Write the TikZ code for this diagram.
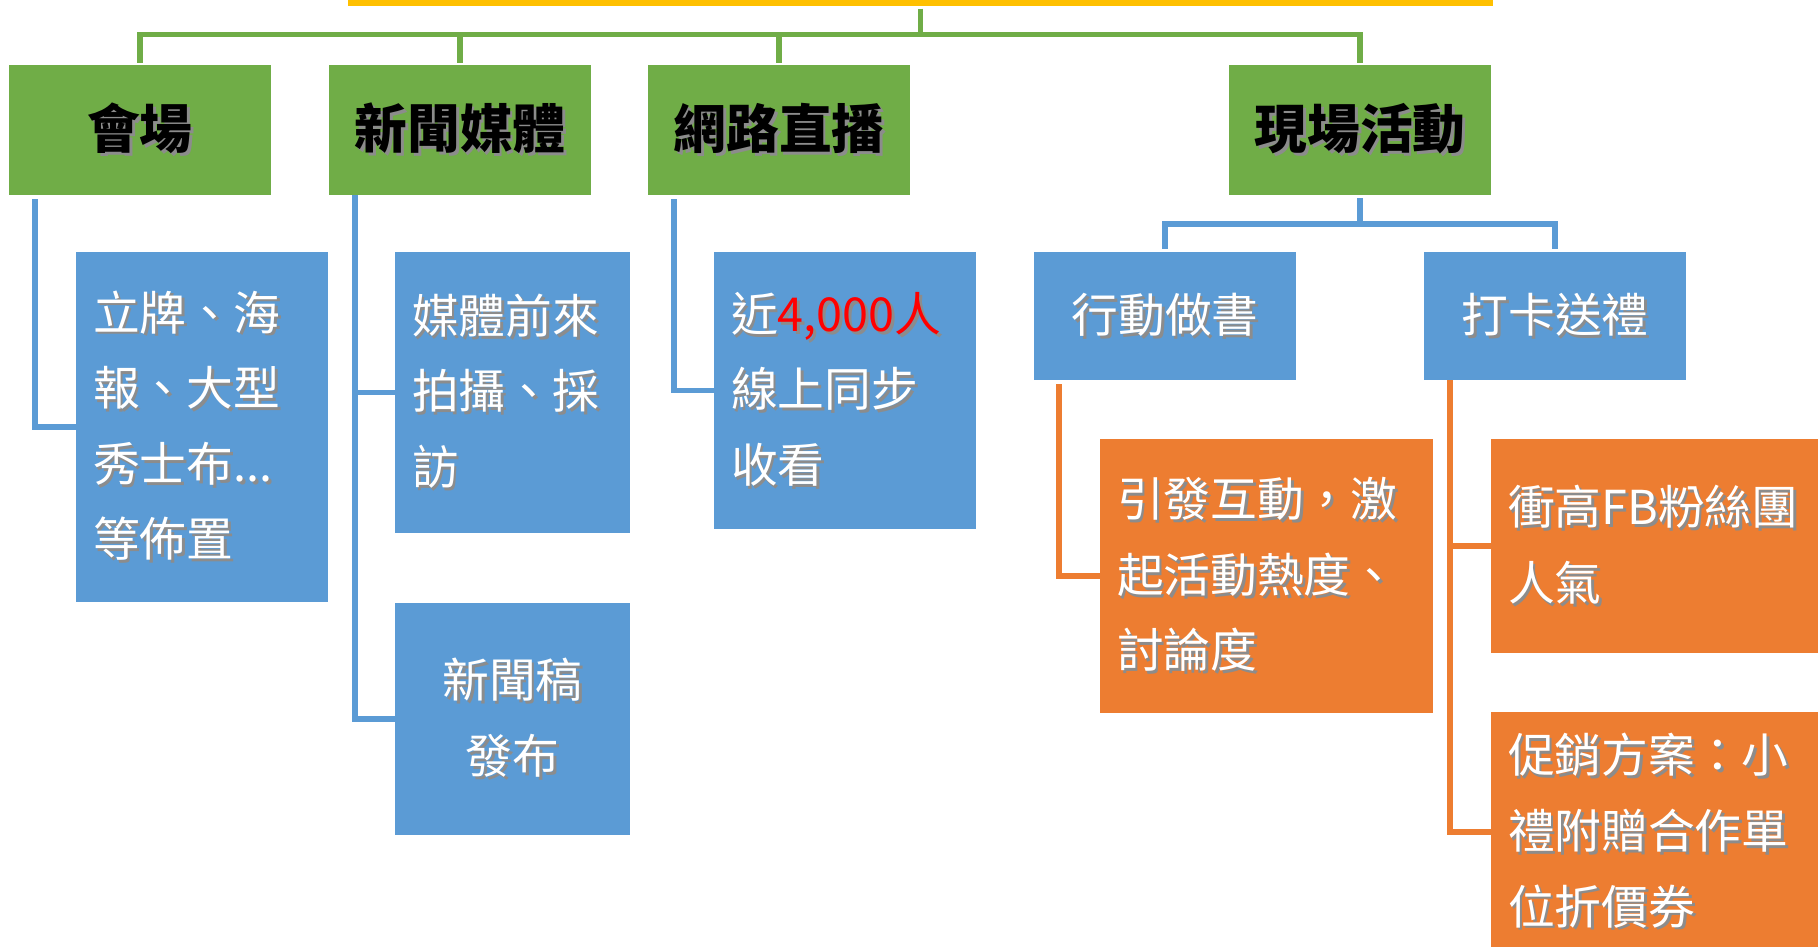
\documentclass[tikz,border=0pt]{standalone}
\usepackage{fontspec}
\setmainfont{Noto Sans CJK TC}
\usetikzlibrary{calc}
\usetikzlibrary{positioning}

\definecolor{leafgreen}{HTML}{70AD47}
\definecolor{skyblue}{HTML}{5B9BD5}
\definecolor{warmorange}{HTML}{ED7D31}
\definecolor{goldbar}{HTML}{FFC000}
\definecolor{hotred}{HTML}{FF0000}

\newif\ifshadowcopy
\newcommand{\softshadow}[1]{\makebox[0pt][l]{\shadowcopytrue\color{black!45}\raisebox{-0.8pt}{\kern0.8pt#1}}#1}
\newcommand{\hot}[1]{\ifshadowcopy#1\else{\color{hotred}#1}\fi}

\begin{document}
\begin{tikzpicture}
	[y=-1cm,
	box/.style = {rectangle, inner sep=0pt, outer sep=0pt},
	bar/.style = {box, fill=goldbar, minimum width=11.45cm, minimum height=0.11cm},
	head/.style = {box, fill=leafgreen, minimum width=2.62cm, minimum height=1.30cm, font=\fontsize{15}{18}\selectfont\bfseries},
	leaf/.style = {box, fill=skyblue, text=white, inner xsep=0.17cm, align=left, font=\fontsize{13.3}{21.5}\selectfont},
	twig/.style = {leaf, fill=warmorange},
	greenline/.style = {draw=leafgreen, line width=1.5pt},
	blueline/.style = {draw=skyblue, line width=1.5pt},
	orangeline/.style = {draw=warmorange, line width=1.5pt}
	]
	\useasboundingbox (0,0) rectangle (18.18,9.46);
	\clip (0,0) rectangle (18.18,9.46);

	% top level
	\node[bar] (theme) at (9.205,0) {};
	\node[head] (venue) at (1.40,1.30) {\softshadow{會場}};
	\node[head] (press) at (4.60,1.30) {\softshadow{新聞媒體}};
	\node[head] (live) at (7.79,1.30) {\softshadow{網路直播}};
	\node[head] (onsite) at (13.60,1.30) {\softshadow{現場活動}};

	% blue boxes
	\node[leaf, text width=2.18cm, minimum height=3.50cm] (signs) at (2.02,4.27)
		{\softshadow{立牌、海}\\\softshadow{報、大型}\\\softshadow{秀士布...}\\\softshadow{等佈置}};
	\node[leaf, text width=2.01cm, minimum height=2.81cm] (visit) at (5.125,3.925)
		{\softshadow{媒體前來}\\\softshadow{拍攝、採}\\\softshadow{訪}};
	\node[leaf, text width=2.01cm, minimum height=2.32cm, align=center] (release) at (5.125,7.19)
		{\softshadow{新聞稿}\\\softshadow{發布}};
	\node[leaf, text width=2.28cm, minimum height=2.77cm] (viewers) at (8.45,3.905)
		{\softshadow{近\hot{4,000人}}\\\softshadow{線上同步}\\\softshadow{收看}};
	\node[leaf, text width=2.28cm, minimum height=1.28cm, align=center] (book) at (11.65,3.16) {\softshadow{行動做書}};
	\node[leaf, text width=2.28cm, minimum height=1.28cm, align=center] (gift) at (15.55,3.16) {\softshadow{打卡送禮}};

	% orange boxes
	\node[twig, text width=2.99cm, minimum height=2.74cm] (buzz) at (12.665,5.76)
		{\softshadow{引發互動，激}\\\softshadow{起活動熱度、}\\\softshadow{討論度}};
	\node[twig, text width=2.99cm, minimum height=2.14cm] (fans) at (16.575,5.46)
		{\softshadow{衝高FB粉絲團}\\\softshadow{人氣}};
	\node[twig, text width=2.99cm, minimum height=2.40cm] (promo) at (16.575,8.32)
		{\softshadow{促銷方案：小}\\\softshadow{禮附贈合作單}\\\softshadow{位折價券}};

	% connectors
	\coordinate (trunk) at (9.205,0.345);
	\draw[greenline] ([yshift=-0.03cm]theme.south) -- (trunk);
	\foreach \n in {venue,press,live,onsite}
		\draw[greenline] (trunk) -| ([yshift=0.02cm]\n.north);

	\draw[blueline] ([shift={(0.26,0.04)}]venue.south west) |- (signs.west);
	\draw[blueline] ([shift={(0.26,0.04)}]press.south west) |- (release.west);
	\draw[blueline] (visit.west) -| ([xshift=0.26cm]press.south west);
	\draw[blueline] ([shift={(0.26,0.04)}]live.south west) |- (viewers.west);
	\draw[blueline] ([yshift=-0.03cm]onsite.south) -- ++(0,0.26) coordinate (fork);
	\draw[blueline] (fork) -| ([yshift=0.03cm]book.north);
	\draw[blueline] (fork) -| ([yshift=0.03cm]gift.north);

	\draw[orangeline] ([shift={(0.25,0.04)}]book.south west) |- (buzz.west);
	\draw[orangeline] ([shift={(0.26,0.04)}]gift.south west) |- (promo.west);
	\draw[orangeline] (fans.west) -| ([xshift=0.26cm]gift.south west);
\end{tikzpicture}
\end{document}
